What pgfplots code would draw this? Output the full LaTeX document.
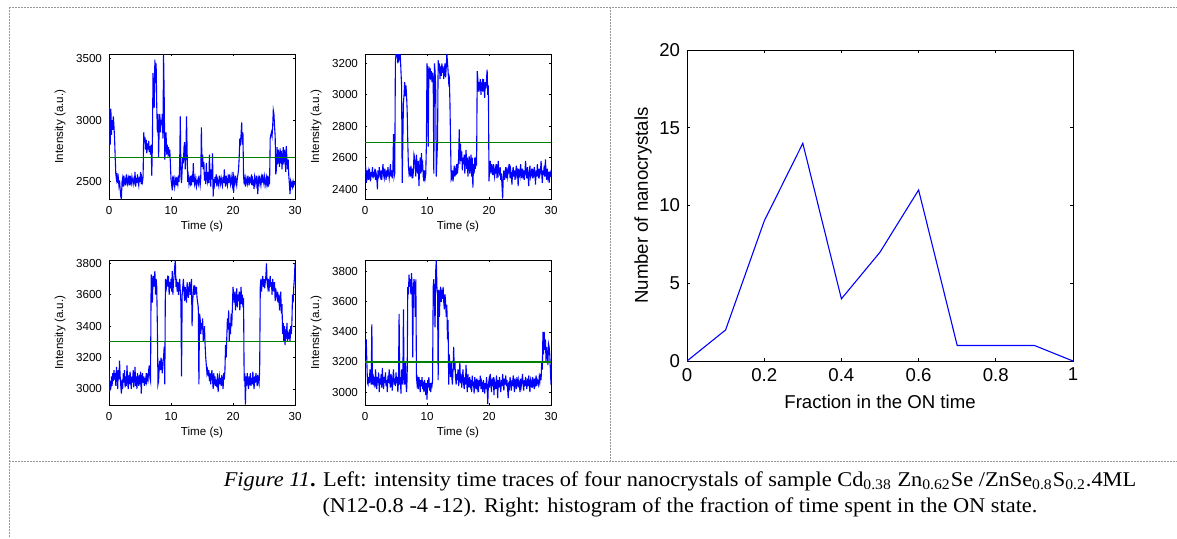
\documentclass[border=0pt]{standalone}
\usepackage{fontspec}
\setmainfont{Liberation Sans}
\newfontfamily\capfont{Liberation Serif}
\usepackage{pgfplots}
\pgfplotsset{compat=1.18}
\definecolor{mblue}{RGB}{0,0,255}
\definecolor{mgreen}{RGB}{0,128,0}
\definecolor{framegray}{RGB}{150,150,150}

\pgfplotsset{
  common/.style={
    scale only axis,
    tick align=inside, tick pos=both,
    axis line style={line width=0.5pt},
    every tick/.style={black, line width=0.4pt},
    /pgf/number format/assume math mode=true,
    /pgf/number format/1000 sep={},
    clip=true,
  },
  trace/.style={
    common,
    width=93pt, height=72.5pt,
    xmin=0, xmax=30, xtick={0,10,20,30},
    major tick length=1.2pt,
    tick label style={font=\fontsize{5.8}{6}\selectfont},
    xlabel={Time (s)}, ylabel={Intensity (a.u.)},
    every axis x label/.style={at={(axis description cs:0.5,-0.19)}, anchor=center,
      font=\fontsize{5.8}{6}\selectfont},
    every axis y label/.style={at={(axis description cs:-0.263,0.5)}, rotate=90, anchor=center,
      font=\fontsize{5.8}{6}\selectfont},
  },
  sig/.style={mblue, line width=0.55pt},
  lvl/.style={mgreen, line width=0.55pt},
  /pgfplots/table/idx/.style={row sep=\\, header=false, x expr=\coordindex*0.1, y index=0},
}

\begin{document}
\begin{tikzpicture}
\useasboundingbox (0,0) rectangle (588.5pt,-269pt);

% panel frames
\begin{scope}[framegray, line width=0.5pt, dash pattern=on 1pt off 0.5pt]
\draw (4.5pt,-3.5pt) -- (588.5pt,-3.5pt);
\draw (4.5pt,-3.5pt) -- (4.5pt,-269pt);
\draw (305pt,-3.5pt) -- (305pt,-230.5pt);
\draw (4.5pt,-230.5pt) -- (588.5pt,-230.5pt);
\end{scope}

% trace 1
\begin{axis}[trace, at={(54.5pt,-99.5pt)}, anchor=south west,
  ymin=2360, ymax=3535, ytick={2500,3000,3500}]
\addplot[sig] table[idx] {
2520\\3100\\2800\\3090\\2880\\3000\\2920\\3030\\2950\\2850\\
2700\\2560\\2520\\2570\\2490\\2530\\2470\\2510\\2440\\2380\\
2360\\2500\\2530\\2460\\2550\\2490\\2510\\2470\\2560\\2500\\
2480\\2530\\2500\\2550\\2470\\2520\\2490\\2540\\2510\\2480\\
2520\\2500\\2580\\2460\\2530\\2490\\2560\\2500\\2470\\2540\\
2500\\2580\\2480\\2530\\2500\\2540\\2900\\2820\\2860\\2760\\
2840\\2730\\2810\\2760\\2830\\2740\\2790\\2720\\2800\\2550\\
2820\\3380\\3250\\3100\\3490\\3300\\3460\\3120\\2900\\3050\\
2700\\2950\\3050\\2900\\3000\\2960\\3050\\2850\\3535\\3200\\
2680\\2780\\2900\\2720\\2800\\2740\\2780\\2700\\2760\\2650\\
2520\\2480\\2430\\2550\\2490\\2520\\2460\\2500\\2540\\2470\\
2510\\2480\\2550\\2500\\2650\\3030\\2550\\2490\\2600\\2700\\
2650\\2780\\2820\\2600\\2700\\3030\\2750\\2500\\2540\\2480\\
2520\\2490\\2550\\2470\\2530\\2500\\2650\\2510\\2480\\2530\\
2490\\2460\\2520\\2500\\2480\\2550\\2510\\2470\\2530\\2940\\
2620\\2720\\2600\\2660\\2510\\2580\\2480\\2650\\2530\\2500\\
2580\\2490\\2720\\2550\\2460\\2600\\2520\\2730\\2380\\2520\\
2480\\2540\\2490\\2560\\2460\\2520\\2500\\2470\\2550\\2510\\
2480\\2530\\2500\\2470\\2540\\2490\\2600\\2510\\2460\\2550\\
2500\\2470\\2530\\2490\\2560\\2510\\2480\\2540\\2500\\2470\\
2580\\2410\\2520\\2490\\2550\\2500\\2470\\2530\\2560\\2600\\
2700\\2850\\2820\\2880\\2980\\2800\\2900\\2550\\2480\\2520\\
2460\\2530\\2500\\2480\\2550\\2510\\2470\\2540\\2500\\2490\\
2560\\2470\\2520\\2500\\2440\\2540\\2510\\2480\\2550\\2500\\
2400\\2520\\2490\\2550\\2500\\2470\\2530\\2490\\2560\\2510\\
2480\\2540\\2500\\2470\\2530\\2490\\2550\\2460\\2510\\2480\\
2850\\2880\\2900\\2870\\2950\\3080\\3050\\2950\\2870\\2560\\
2600\\2780\\2640\\2760\\2700\\2620\\2770\\2650\\2750\\2600\\
2700\\2780\\2640\\2760\\2720\\2580\\2790\\2680\\2600\\2680\\
2550\\2480\\2400\\2500\\2470\\2490\\2460\\2500\\2470\\2490\\
2480\\
};
\addplot[lvl] coordinates {(0,2700) (30,2700)};
\end{axis}

% trace 2
\begin{axis}[trace, at={(182.5pt,-99.5pt)}, anchor=south west,
  ymin=2338, ymax=3259, ytick={2400,2600,2800,3000,3200}]
\addplot[sig] table[idx] {
2500\\2550\\2440\\2520\\2480\\2510\\2460\\2530\\2490\\2450\\
2510\\2480\\2540\\2470\\2500\\2490\\2530\\2460\\2500\\2480\\
2400\\2520\\2470\\2540\\2500\\2480\\2520\\2460\\2510\\2560\\
2490\\2470\\2530\\2500\\2460\\2520\\2480\\2540\\2500\\2470\\
2510\\2560\\2480\\2520\\2470\\2530\\2750\\2480\\2500\\3200\\
3260\\3250\\3260\\3200\\3260\\3230\\3260\\3250\\3150\\3060\\
2440\\2700\\2950\\3000\\3080\\2990\\3060\\3000\\2900\\2700\\
2550\\2500\\2520\\2480\\2550\\2500\\2530\\2470\\2510\\2620\\
2600\\2540\\2480\\2620\\2550\\2500\\2580\\2420\\2530\\2600\\
2500\\2630\\2540\\2560\\2480\\2450\\2520\\2470\\2500\\2680\\
3200\\3150\\2670\\3180\\3100\\3170\\3120\\3150\\3080\\3140\\
3100\\2500\\3200\\3150\\3050\\2480\\2600\\2700\\3220\\3150\\
3200\\3100\\3180\\3120\\3200\\3140\\3180\\3100\\3150\\3200\\
3110\\3170\\3260\\3210\\3150\\3080\\3100\\2950\\2700\\2460\\
2470\\2520\\2450\\2500\\2550\\2480\\2520\\2490\\2560\\2500\\
2540\\2600\\2780\\2560\\2690\\2580\\2640\\2520\\2600\\2560\\
2620\\2500\\2580\\2650\\2530\\2600\\2480\\2570\\2610\\2500\\
2550\\2620\\2480\\2600\\2410\\2560\\2500\\2600\\2530\\2580\\
2550\\3150\\3100\\3020\\3080\\3050\\3100\\3000\\3060\\3080\\
3020\\3100\\3050\\2980\\3080\\3040\\3100\\3160\\3000\\3060\\
2450\\2540\\2580\\2500\\2560\\2520\\2490\\2560\\2510\\2480\\
2530\\2500\\2560\\2470\\2520\\2580\\2490\\2500\\2540\\2460\\
2500\\2420\\2340\\2480\\2520\\2460\\2500\\2540\\2470\\2510\\
2480\\2530\\2500\\2560\\2470\\2520\\2490\\2430\\2510\\2540\\
2480\\2520\\2460\\2500\\2550\\2490\\2510\\2420\\2530\\2500\\
2480\\2560\\2500\\2470\\2530\\2490\\2520\\2460\\2510\\2580\\
2500\\2470\\2540\\2490\\2420\\2510\\2550\\2480\\2500\\2530\\
2470\\2510\\2490\\2540\\2500\\2430\\2520\\2480\\2560\\2500\\
2470\\2530\\2490\\2510\\2580\\2500\\2440\\2520\\2490\\2550\\
2480\\2590\\2500\\2460\\2530\\2480\\2510\\2440\\2500\\2490\\
2520\\
};
\addplot[lvl] coordinates {(0,2695) (30,2695)};
\end{axis}

% trace 3
\begin{axis}[trace, at={(54.5pt,-202.5pt)}, anchor=south west,
  ymin=2898, ymax=3821, ytick={3000,3200,3400,3600,3800}]
\addplot[sig] table[idx] {
3120\\2980\\3050\\3000\\3080\\3020\\3100\\3050\\3120\\3060\\
3100\\3020\\3140\\3080\\3000\\3120\\3060\\3180\\3080\\3020\\
2970\\3060\\3000\\3100\\3040\\3120\\3010\\3080\\3020\\3150\\
3050\\3000\\3090\\3030\\3110\\3050\\3000\\3080\\3040\\3120\\
3010\\3060\\3140\\3020\\3080\\3000\\3100\\3050\\3020\\3090\\
3030\\3110\\2970\\3060\\3100\\3040\\3080\\3020\\3070\\3030\\
3100\\3050\\3080\\3060\\3120\\3150\\3070\\3050\\3730\\3680\\
3550\\3720\\3650\\3700\\3750\\3600\\3700\\3650\\3400\\3030\\
3050\\3150\\3180\\3120\\3200\\3150\\3100\\3180\\3200\\3270\\
3030\\3700\\3620\\3680\\3700\\3650\\3720\\3600\\3680\\3640\\
3700\\3620\\3750\\3600\\3680\\3720\\3780\\3820\\3650\\3700\\
3620\\3680\\3600\\3660\\3700\\3620\\3550\\3080\\3600\\3650\\
3700\\3620\\3560\\3650\\3600\\3550\\3680\\3620\\3580\\3650\\
3680\\3600\\3650\\3700\\3400\\3560\\3620\\3660\\3600\\3640\\
3620\\3650\\3580\\3550\\3520\\3030\\3480\\3450\\3350\\3420\\
3380\\3450\\3300\\3350\\3400\\3280\\3200\\3150\\3100\\3120\\
3080\\3120\\3050\\3100\\3030\\3080\\3120\\3060\\3000\\3100\\
3050\\3080\\3020\\3060\\3010\\3100\\2980\\3050\\3080\\3030\\
3070\\3020\\3090\\3050\\3000\\3100\\3060\\3120\\3280\\3200\\
3330\\3450\\3380\\3500\\3300\\3420\\3350\\3480\\3400\\3520\\
3650\\3600\\3550\\3620\\3500\\3580\\3640\\3520\\3600\\3560\\
3620\\3500\\3570\\3650\\3540\\3600\\3520\\3580\\3050\\3100\\
2900\\3080\\3020\\3100\\3040\\3000\\3080\\3050\\3100\\3020\\
3070\\3030\\3110\\3050\\3000\\3080\\3040\\3100\\3060\\3020\\
3090\\3050\\3030\\3120\\3650\\3700\\3620\\3680\\3720\\3650\\
3700\\3640\\3680\\3720\\3800\\3680\\3650\\3700\\3620\\3680\\
3720\\3650\\3680\\3600\\3700\\3650\\3620\\3680\\3560\\3640\\
3600\\3580\\3620\\3550\\3600\\3500\\3570\\3620\\3480\\3540\\
3350\\3420\\3300\\3400\\3280\\3380\\3320\\3420\\3300\\3360\\
3320\\3380\\3300\\3400\\3350\\3420\\3600\\3550\\3650\\3700\\
3800\\
};
\addplot[lvl] coordinates {(0,3300) (30,3300)};
\end{axis}

% trace 4
\begin{axis}[trace, at={(182.5pt,-202.5pt)}, anchor=south west,
  ymin=2914, ymax=3878, ytick={3000,3200,3400,3600,3800}]
\addplot[sig] table[idx] {
3320\\3300\\3350\\3200\\3060\\3050\\3100\\3060\\3150\\3080\\
3050\\3450\\3050\\3120\\3070\\3100\\3030\\3150\\3080\\3020\\
3100\\3060\\3130\\3000\\3090\\3050\\3120\\3030\\3160\\3070\\
3020\\3100\\3060\\3130\\3040\\3080\\3000\\3110\\3060\\3150\\
3070\\3030\\3120\\3080\\3010\\3100\\3150\\3050\\3090\\3040\\
3130\\3060\\3100\\3000\\3080\\3520\\3050\\3100\\2990\\3150\\
3100\\3050\\3550\\3100\\3050\\3200\\3080\\3000\\3100\\3700\\
3650\\3780\\3700\\3750\\3650\\3790\\3700\\3230\\3680\\3750\\
3720\\3500\\3750\\3100\\3050\\3080\\3020\\3100\\3060\\3000\\
3080\\3040\\3100\\3020\\3070\\3000\\3080\\3050\\2980\\3060\\
2950\\3080\\3030\\3100\\3010\\3060\\3000\\3050\\3040\\3080\\
3700\\3750\\3600\\3430\\3800\\3880\\3700\\3650\\3080\\3680\\
3500\\3650\\3700\\3600\\3680\\3620\\3700\\3600\\3550\\3650\\
3600\\3500\\3580\\3350\\3480\\3050\\3250\\3150\\3100\\3200\\
3100\\3050\\3150\\3300\\3150\\3200\\3100\\3050\\3120\\3080\\
3150\\3040\\3100\\3200\\3060\\3120\\3030\\3090\\3150\\3060\\
3020\\3100\\3050\\3180\\3070\\3000\\3120\\3060\\3030\\3100\\
3050\\3080\\3000\\3110\\3040\\3070\\2990\\3100\\3050\\3020\\
3090\\3030\\3060\\3000\\3080\\3040\\3110\\3020\\3070\\3050\\
3000\\3080\\3040\\2990\\3060\\3020\\3100\\3030\\2920\\3050\\
3080\\3030\\3120\\3060\\3000\\3090\\3040\\3100\\2980\\3070\\
3050\\3020\\3110\\3060\\2960\\3080\\3030\\3100\\3050\\3000\\
3080\\3040\\3120\\3060\\3010\\3090\\3050\\3110\\3040\\3080\\
3020\\2960\\3070\\3040\\3100\\3050\\3010\\3080\\3040\\3110\\
3060\\3000\\3090\\3050\\3020\\3100\\3070\\3030\\3080\\3050\\
3000\\3090\\3040\\3070\\3120\\3050\\3010\\3080\\3040\\3100\\
3060\\3020\\3090\\3040\\3110\\3050\\3000\\3080\\3060\\3030\\
3100\\3050\\3070\\3020\\3090\\3060\\3110\\3040\\3080\\3070\\
3050\\3100\\3070\\3120\\3080\\3200\\3150\\3400\\3250\\3400\\
3280\\3350\\3200\\3300\\3250\\3180\\3320\\3300\\3250\\3150\\
3050\\
};
\addplot[lvl] coordinates {(0,3200) (30,3200)};
\end{axis}

% histogram of ON fraction
\begin{axis}[common, at={(343.5pt,-180.5pt)}, anchor=south west,
  width=193pt, height=155.5pt,
  xmin=0, xmax=1, ymin=0, ymax=20,
  xtick={0,0.2,0.4,0.6,0.8,1}, ytick={0,5,10,15,20},
  major tick length=1.7pt,
  tick label style={font=\fontsize{9.3}{10}\selectfont},
  xlabel={Fraction in the ON time}, ylabel={Number of nanocrystals},
  every axis x label/.style={at={(axis description cs:0.5,-0.13)}, anchor=center,
    font=\fontsize{9.3}{10}\selectfont},
  every axis y label/.style={at={(axis description cs:-0.114,0.5)}, rotate=90, anchor=center,
    font=\fontsize{9.3}{10}\selectfont},
]
\addplot[sig] coordinates {
  (0,0) (0.1,2) (0.2,9) (0.3,14) (0.4,4) (0.5,7)
  (0.6,11) (0.7,1) (0.8,1) (0.9,1) (1,0)
};
\end{axis}

% caption
\node[anchor=base, font=\capfont\fontsize{10.5}{12}\selectfont] at (340pt,-243pt)
  {\scalebox{1.065}[1]{\textit{Figure 11}\textbf{.} Left: intensity time traces of four nanocrystals of sample Cd\textsubscript{0.38} Zn\textsubscript{0.62}Se /ZnSe\textsubscript{0.8}S\textsubscript{0.2}.4ML}};
\node[anchor=base, font=\capfont\fontsize{10.5}{12}\selectfont] at (340pt,-256pt)
  {\scalebox{1.065}[1]{(N12-0.8 -4 -12). Right: histogram of the fraction of time spent in the ON state.}};
\end{tikzpicture}
\end{document}
